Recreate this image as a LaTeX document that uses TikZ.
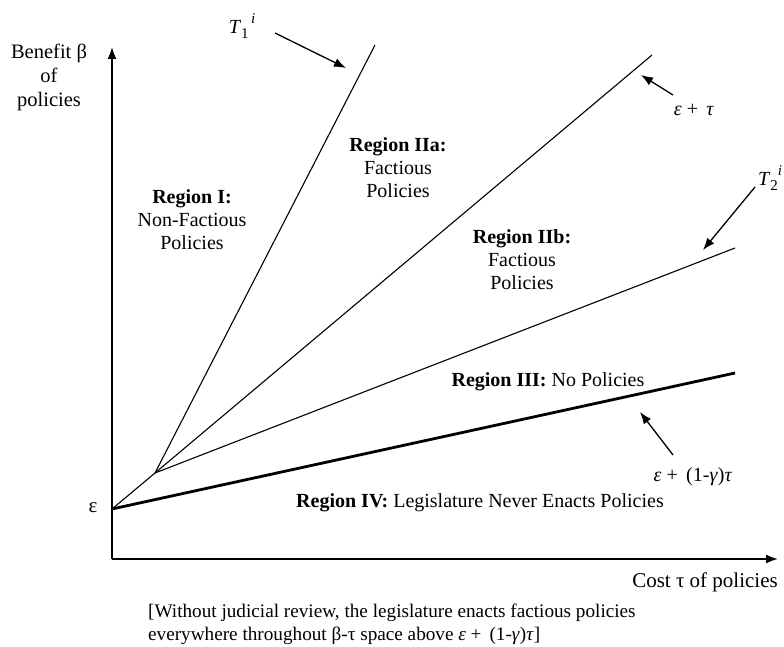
\documentclass[tikz,border=0pt]{standalone}
\usepackage{fontspec}
\setmainfont{Liberation Serif}
\usetikzlibrary{arrows.meta}
\begin{document}
\begin{tikzpicture}[x=1pt,y=-1pt,
  txt/.style={inner sep=0pt,align=center,font=\fontsize{20}{23}\selectfont},
  lab/.style={inner sep=0pt,font=\fontsize{20}{23}\selectfont},
  axis/.style={line width=1.8pt,-{Latex[length=12pt,width=9pt]}},
  ray/.style={line width=1.1pt},
  boundary/.style={line width=2.8pt},
  pointer/.style={line width=1.3pt,-{Latex[length=12pt,width=9pt]}}]
\useasboundingbox (0,0) rectangle (784,647);
% key points
\coordinate (O) at (112,559);
\coordinate (Ytop) at (112,47);
\coordinate (Xend) at (778,559);
\coordinate (E) at (112,509);
\coordinate (K) at (155,473);
\coordinate (T1end) at (375,45);
\coordinate (ETend) at (652,55);
\coordinate (T2end) at (735,248);
\coordinate (Bend) at (735,373);
% axes
\draw[axis] (O) -- (Ytop);
\draw[axis] (O) -- (Xend);
% rays
\draw[ray] (E) -- (K);
\draw[ray] (K) -- (T1end);
\draw[ray] (K) -- (ETend);
\draw[ray] (K) -- (T2end);
\draw[boundary] (E) -- (Bend);
% pointer arrows
\coordinate (p1a) at (275,33);  \coordinate (p1b) at (346,68);
\coordinate (p2a) at (673,95);  \coordinate (p2b) at (641,75);
\coordinate (p3a) at (755,187); \coordinate (p3b) at (703,250);
\coordinate (p4a) at (673,455); \coordinate (p4b) at (640,412);
\draw[pointer] (p1a) -- (p1b);
\draw[pointer] (p2a) -- (p2b);
\draw[pointer] (p3a) -- (p3b);
\draw[pointer] (p4a) -- (p4b);
% axis labels
\node[txt,font=\fontsize{20.5}{24}\selectfont] (ylab) at (49,77) {Benefit β\\of\\policies};
\node[txt,font=\fontsize{21}{24}\selectfont] (xlab) at (705,582) {Cost τ of policies};
\node[txt,font=\fontsize{21}{24}\selectfont] (eps) at (93,508) {ε};
% curve labels
\node[lab] (t1) at (242,26) {\textit{T}\raisebox{-5pt}{\fontsize{15}{17}\selectfont 1}\raisebox{10pt}{\fontsize{15}{17}\selectfont\,\textit{i}}};
\node[lab] (et) at (694,110) {\textit{ε}~+~\,\textit{τ}};
\node[lab] (t2) at (770,178) {\textit{T}\raisebox{-5pt}{\fontsize{15}{17}\selectfont 2}\raisebox{10pt}{\fontsize{15}{17}\selectfont\textit{i}}};
\node[lab] (eg) at (693,477) {\textit{ε}~+~\,(1-\textit{γ})\textit{τ}};
% regions
\node[txt] (r1) at (192,220) {\textbf{Region I:}\\Non-Factious\\Policies};
\node[txt] (r2a) at (398,168) {\textbf{Region IIa:}\\Factious\\Policies};
\node[txt] (r2b) at (522,260) {\textbf{Region IIb:}\\Factious\\Policies};
\node[txt] (r3) at (548,382) {\textbf{Region III:} No Policies};
\node[txt] (r4) at (480,503) {\textbf{Region IV:} Legislature Never Enacts Policies};
% caption
\node[txt,align=left,anchor=west,font=\fontsize{19.2}{23}\selectfont] (cap) at (148,624)
  {[Without judicial review, the legislature enacts factious policies\\
   everywhere throughout β-τ space above \textit{ε}~+~\,(1-\textit{γ})\textit{τ}]};
\end{tikzpicture}
\end{document}
